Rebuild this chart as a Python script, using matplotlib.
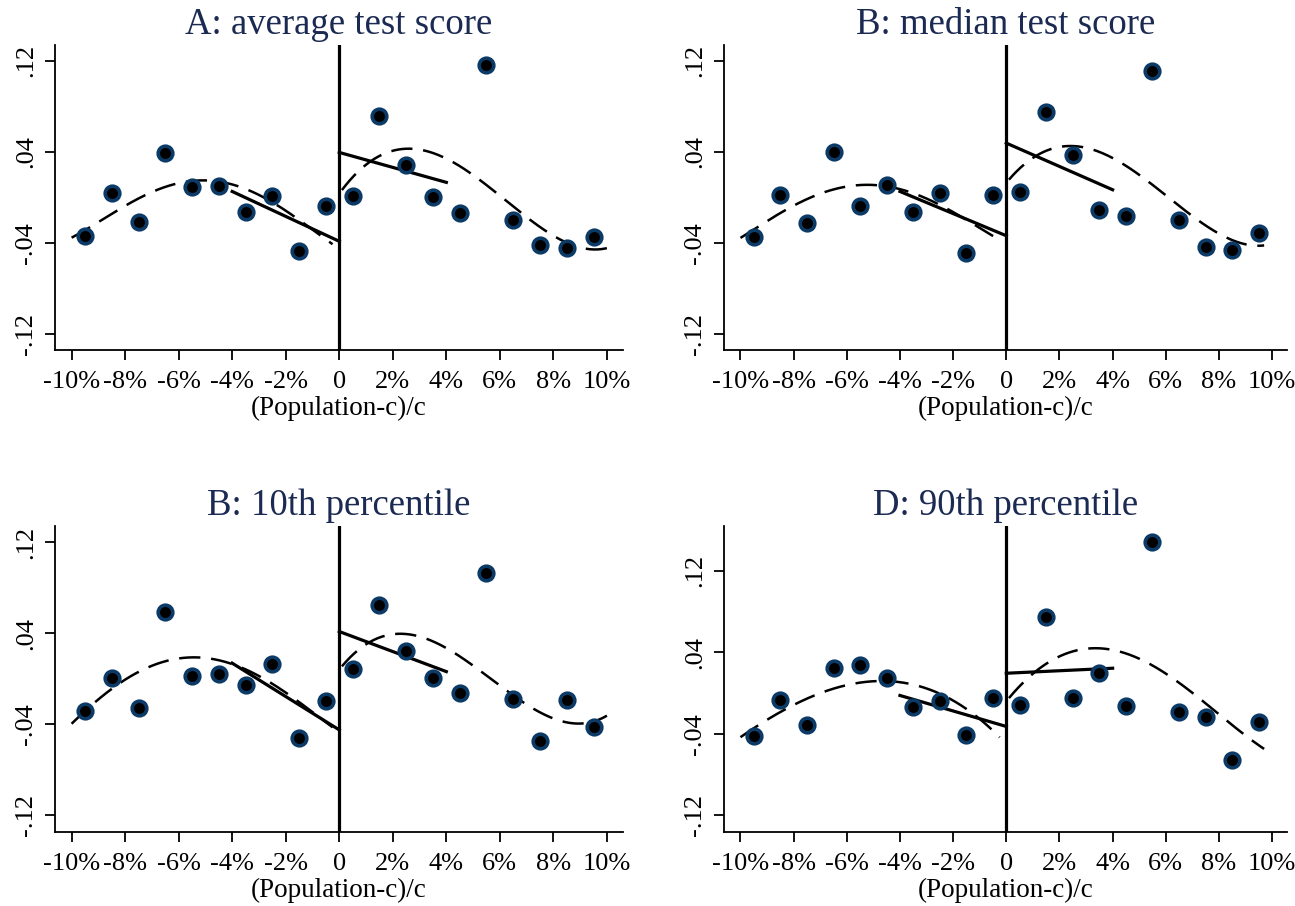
import numpy as np
import matplotlib
matplotlib.use("Agg")
import matplotlib.pyplot as plt

plt.rcParams['font.family'] = ['Liberation Serif', 'DejaVu Serif']

titles = ["A: average test score", "B: median test score",
          "B: 10th percentile", "D: 90th percentile"]

bin_x = [-9.5, -8.5, -7.5, -6.5, -5.5, -4.5, -3.5, -2.5, -1.5, -0.5,
         0.5, 1.5, 2.5, 3.5, 4.5, 5.5, 6.5, 7.5, 8.5, 9.5]

pts_a = [-0.0341, 0.0039, -0.0213, 0.0390, 0.0089, 0.0103, -0.0131, 0.0015, -0.0473, -0.0078,
         0.0010, 0.0712, 0.0287, 0.0004, -0.0140, 0.1165, -0.0201, -0.0415, -0.0447, -0.0344]
pts_b = [-0.0344, 0.0021, -0.0224, 0.0404, -0.0078, 0.0112, -0.0131, 0.0039, -0.0491, 0.0021,
         0.0051, 0.0755, 0.0375, -0.0107, -0.0160, 0.1109, -0.0198, -0.0438, -0.0461, -0.0312]
pts_c = [-0.0281, 0.0006, -0.0257, 0.0591, 0.0029, 0.0041, -0.0053, 0.0132, -0.0521, -0.0190,
         0.0085, 0.0650, 0.0249, 0.0006, -0.0126, 0.0928, -0.0178, -0.0544, -0.0184, -0.0427]
pts_d = [-0.0420, -0.0067, -0.0312, 0.0250, 0.0276, 0.0152, -0.0142, -0.0077, -0.0410, -0.0044,
         -0.0116, 0.0743, -0.0046, 0.0200, -0.0132, 0.1478, -0.0188, -0.0237, -0.0655, -0.0289]

# global polynomial fit curves, read at integer positions
curve_left_x = [-10, -9, -8, -7, -6, -5, -4, -3, -2, -1, 0]
curve_right_x = [0, 1, 2, 3, 4, 5, 6, 7, 8, 9, 10]
curve_left_a = [-0.0356, -0.0204, -0.0087, 0.0045, 0.0138, 0.0147, 0.0118, 0.0015, -0.0116, -0.0277, -0.0453]
curve_right_a = [0.0045, 0.0264, 0.0410, 0.0440, 0.0352, 0.0191, 0.0001, -0.0175, -0.0336, -0.0423, -0.0453]
curve_left_b = [-0.0356, -0.0204, -0.0072, 0.0030, 0.0094, 0.0118, 0.0074, -0.0014, -0.0131, -0.0262, -0.0409]
curve_right_b = [0.0132, 0.0343, 0.0440, 0.0440, 0.0352, 0.0206, 0.0015, -0.0175, -0.0321, -0.0394, -0.0415]
curve_left_c = [-0.0398, -0.0170, -0.0009, 0.0108, 0.0176, 0.0190, 0.0138, 0.0020, -0.0126, -0.0287, -0.0470]
curve_right_c = [0.0085, 0.0299, 0.0386, 0.0372, 0.0284, 0.0123, -0.0067, -0.0243, -0.0345, -0.0375, -0.0331]
curve_left_d = [-0.0433, -0.0263, -0.0116, -0.0002, 0.0080, 0.0113, 0.0103, 0.0047, -0.0067, -0.0263, -0.0500]
curve_right_d = [-0.0083, 0.0194, 0.0358, 0.0429, 0.0423, 0.0341, 0.0194, -0.0002, -0.0214, -0.0410, -0.0600]
curve_end = [10.0, 9.7, 10.0, 9.7]

# local linear fits (endpoints at -4/0 and 0/4)
lin_left_x = [-4, 0]
lin_right_x = [0, 4]
lin_left = [[0.0053, -0.0385], [0.0053, -0.0336], [0.0138, -0.0448], [-0.0024, -0.0328]]
lin_right = [[0.0396, 0.0133], [0.0478, 0.0068], [0.0416, 0.0064], [0.0194, 0.0243]]

pts = [pts_a, pts_b, pts_c, pts_d]
cl = [curve_left_a, curve_left_b, curve_left_c, curve_left_d]
cr = [curve_right_a, curve_right_b, curve_right_c, curve_right_d]
ylims = [(-0.134, 0.134), (-0.134, 0.134), (-0.1345, 0.1343), (-0.1363, 0.1638)]

xticks = [-10, -8, -6, -4, -2, 0, 2, 4, 6, 8, 10]
xticklabels = ["-10%", "-8%", "-6%", "-4%", "-2%", "0", "2%", "4%", "6%", "8%", "10%"]
yticks = [-0.12, -0.04, 0.04, 0.12]
yticklabels = ["-.12", "-.04", ".04", ".12"]

W, H = 1295, 906
fig = plt.figure(figsize=(W / 100, H / 100), dpi=100)
boxes = [(55, 45, 623, 350), (724, 45, 1287, 350), (55, 526, 623, 832), (724, 526, 1287, 832)]
xlims = [(-10.62, 10.6), (-10.62, 10.56), (-10.62, 10.6), (-10.62, 10.56)]

navy = '#0b3a66'
title_col = '#1b2a52'
dash = (0, (8.5, 4.3))

for i in range(4):
    l, t, r, b = boxes[i]
    ax = fig.add_axes([l / W, 1 - b / H, (r - l) / W, (b - t) / H])
    ax.set_xlim(*xlims[i])
    ax.set_ylim(*ylims[i])
    for s in ['top', 'right']:
        ax.spines[s].set_visible(False)
    for s in ['left', 'bottom']:
        ax.spines[s].set_linewidth(1.3)
    # vertical cutoff line
    ax.axvline(0, color='black', lw=2.3, zorder=2)
    # dashed polynomial curves
    xl = np.linspace(-10, -0.25, 200)
    pl = np.polyfit(curve_left_x, cl[i], 4)
    ax.plot(xl, np.polyval(pl, xl), color='black', lw=1.8, linestyle=dash, zorder=3)
    xr = np.linspace(0.1, curve_end[i], 200)
    pr = np.polyfit(curve_right_x, cr[i], 4)
    ax.plot(xr, np.polyval(pr, xr), color='black', lw=1.8, linestyle=dash, zorder=3)
    # local linear fits
    ax.plot(lin_left_x, lin_left[i], color='black', lw=2.3, zorder=3)
    ax.plot(lin_right_x, lin_right[i], color='black', lw=2.3, zorder=3)
    # binned means
    ax.plot(bin_x, pts[i], linestyle='none', marker='o', markersize=10.5,
            markerfacecolor='black', markeredgecolor=navy, markeredgewidth=2.6, zorder=4)
    ax.set_xticks(xticks)
    ax.set_xticklabels(xticklabels, fontsize=19)
    ax.set_yticks(yticks)
    ax.set_yticklabels(yticklabels, fontsize=19, rotation=90, va='center')
    ax.tick_params(axis='both', length=7, width=1.3, direction='out')
    ax.tick_params(axis='x', pad=8)
    ax.tick_params(axis='y', pad=6)
    ax.set_xlabel("(Population-c)/c", fontsize=19.5, labelpad=2)
    ax.set_title(titles[i], fontsize=26.5, color=title_col, pad=8)

fig.savefig("out.png", dpi=100)
